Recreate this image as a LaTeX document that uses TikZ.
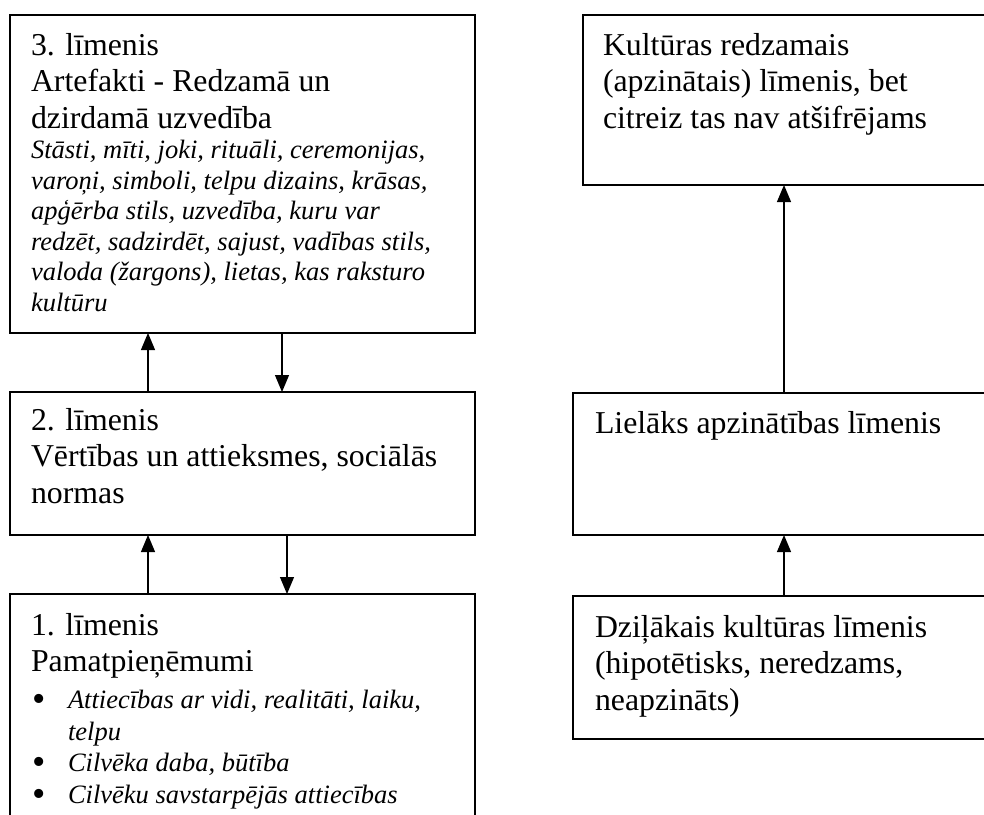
\documentclass[tikz,border=0pt]{standalone}
\usepackage{fontspec}
\setmainfont{Liberation Serif}
\usetikzlibrary{arrows.meta}
\setlength{\parskip}{0pt}
\newcommand{\bigtxt}{\fontsize{31.8pt}{36.6pt}\selectfont}
\newcommand{\smtxt}{\fontsize{26.5pt}{30.5pt}\selectfont\itshape}
\newcommand{\bultxt}{\fontsize{26.5pt}{31.7pt}\selectfont\itshape}
\newcommand{\bul}{\hspace*{1pt}\makebox[36pt][l]{\smash{\raisebox{-3pt}{\fontsize{38pt}{38pt}\selectfont\upshape •}}}}
\begin{document}
\begin{tikzpicture}[x=1pt,y=-1pt]
\tikzset{
  box/.style={draw=black, line width=1.8pt, rectangle, inner sep=0pt, outer sep=0pt, anchor=north west},
  txt/.style={anchor=base west, inner sep=0pt, outer sep=0pt},
  arr/.style={line width=1.2pt, -{Triangle[length=17pt,width=14pt]}}
}
\useasboundingbox (0,0) rectangle (984,814);
\clip (0,0) rectangle (984,814);

% boxes
\node[box, minimum width=465pt, minimum height=318pt] (b3) at (10,15) {};
\node[box, minimum width=465pt, minimum height=143pt] (b2) at (10,392) {};
\node[box, minimum width=465pt, minimum height=260pt] (b1) at (10,594) {};
\node[box, minimum width=430pt, minimum height=170pt] (r1) at (583,15) {};
\node[box, minimum width=440pt, minimum height=142pt] (r2) at (573,393) {};
\node[box, minimum width=440pt, minimum height=143pt] (r3) at (573,596) {};

% connector columns
\coordinate (xa) at (148,0);
\coordinate (xb) at (282,0);
\coordinate (xc) at (287,0);
\coordinate (xr) at (784,0);

\draw[arr] (b2.north -| xa) -- (b3.south -| xa);
\draw[arr] (b3.south -| xb) -- (b2.north -| xb);
\draw[arr] (b1.north -| xa) -- (b2.south -| xa);
\draw[arr] (b2.south -| xc) -- (b1.north -| xc);
\draw[arr] (r2.north -| xr) -- (r1.south -| xr);
\draw[arr] (r3.north -| xr) -- (r2.south -| xr);

% texts
\node[txt] (t3) at (31,55) {\parbox[t]{440pt}{\raggedright\bigtxt
3. līmenis\\
Artefakti - Redzamā un\\
dzirdamā uzvedība\par
\smtxt
Stāsti, mīti, joki, rituāli, ceremonijas,\\
varoņi, simboli, telpu dizains, krāsas,\\
apģērba stils, uzvedība, kuru var\\
redzēt, sadzirdēt, sajust, vadības stils,\\
valoda (žargons), lietas, kas raksturo\\
kultūru\par}};

\node[txt] (t2) at (31,430) {\parbox[t]{440pt}{\raggedright\bigtxt
2. līmenis\\
Vērtības un attieksmes, sociālās\\
normas\par}};

\node[txt] (t1) at (31,635) {\parbox[t]{440pt}{\raggedright\bigtxt
1. līmenis\\
Pamatpieņēmumi\par
\vspace{5pt}
\bultxt
\bul Attiecības ar vidi, realitāti, laiku,\\
\hspace*{37pt}telpu\\
\bul Cilvēka daba, būtība\\
\bul Cilvēku savstarpējās attiecības\par}};

\node[txt] (tr1) at (603,55) {\parbox[t]{380pt}{\raggedright\bigtxt
Kultūras redzamais\\
(apzinātais) līmenis, bet\\
citreiz tas nav atšifrējams\par}};

\node[txt] (tr2) at (595,433) {\parbox[t]{380pt}{\raggedright\bigtxt
Lielāks apzinātības līmenis\par}};

\node[txt] (tr3) at (595,637) {\parbox[t]{380pt}{\raggedright\bigtxt
Dziļākais kultūras līmenis\\
(hipotētisks, neredzams,\\
neapzināts)\par}};
\end{tikzpicture}
\end{document}
